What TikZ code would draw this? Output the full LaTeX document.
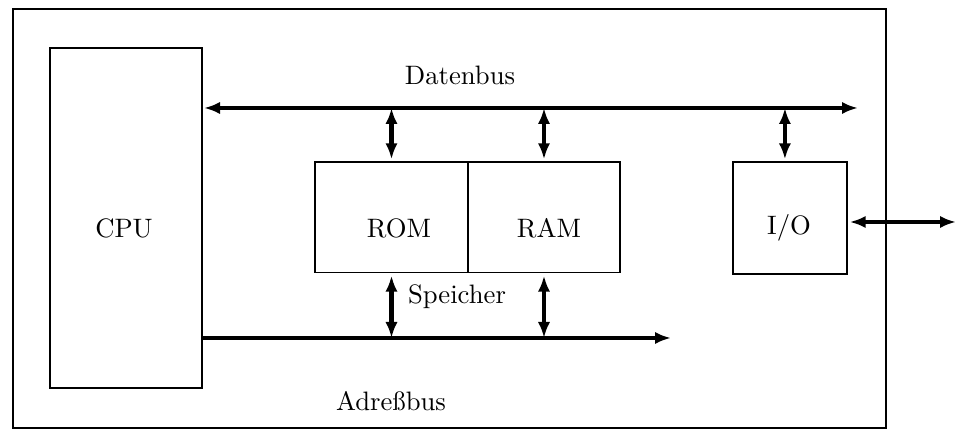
\documentclass[tikz,border=0pt]{standalone}
\usepackage{tikz}
\usetikzlibrary{arrows.meta}
\tikzstyle{box}=[draw,line width=0.4pt,inner sep=0]
\tikzstyle{bus}=[line width=1.6pt]
\tikzstyle{lbl}=[inner sep=0,font=\normalsize]

\begin{document}
\begin{tikzpicture}[x=0.375pt,y=-0.375pt,>={Latex[length=6pt,width=4.6pt]}]
        \useasboundingbox (0,0) rectangle (963,440);
        \draw[line width=0.4pt] (13,9) rectangle (886,428);

                        \node[box,minimum width=57pt,minimum height=127.5pt] (cpu) at (126,218) {};
                        \node[box,minimum width=57.4pt,minimum height=41.6pt] (rom) at (391.5,217.5) {};
                        \node[box,minimum width=57pt,minimum height=41.6pt] (ram) at (544,217.5) {};
                        \node[box,minimum width=42.75pt,minimum height=42pt] (io) at (790,218) {};

                        \node[lbl] (tcpu) at (124,228) {CPU};
                        \node[lbl] (trom) at (399,228) {ROM};
                        \node[lbl] (tram) at (549,228) {RAM};
                        \node[lbl] (tio) at (789,228) {I/O};
                        \node[lbl] (tdb) at (460,75) {Datenbus};
                        \node[lbl] (tsp) at (457,297) {Speicher};
                        \node[lbl] (tab) at (391,401) {Adreßbus};

                        \coordinate (db0) at (204,108);
                        \coordinate (db1) at (858,108);
                        \coordinate (ab0) at (202,338);
                        \coordinate (ab1) at (671,338);
                        \coordinate (ext) at (956,222);
                        \coordinate (iotop) at ([xshift=-1.9pt,yshift=0.8pt]io.north);

                        \draw[bus]
                        (db0) edge[<->] (db1)
                        (ab0) edge[->] (ab1)
                        (rom.north |- db0) edge[<->] ([yshift=0.8pt]rom.north)
                        (ram.north |- db0) edge[<->] ([yshift=0.8pt]ram.north)
                        (iotop |- db0) edge[<->] (iotop)
                        ([yshift=-0.8pt]rom.south) edge[<->] (rom.south |- ab0)
                        ([yshift=-0.8pt]ram.south) edge[<->] (ram.south |- ab0)
                        ([xshift=0.8pt]io.east |- ext) edge[<->] (ext)
                        ;

    \end{tikzpicture}
\end{document}
